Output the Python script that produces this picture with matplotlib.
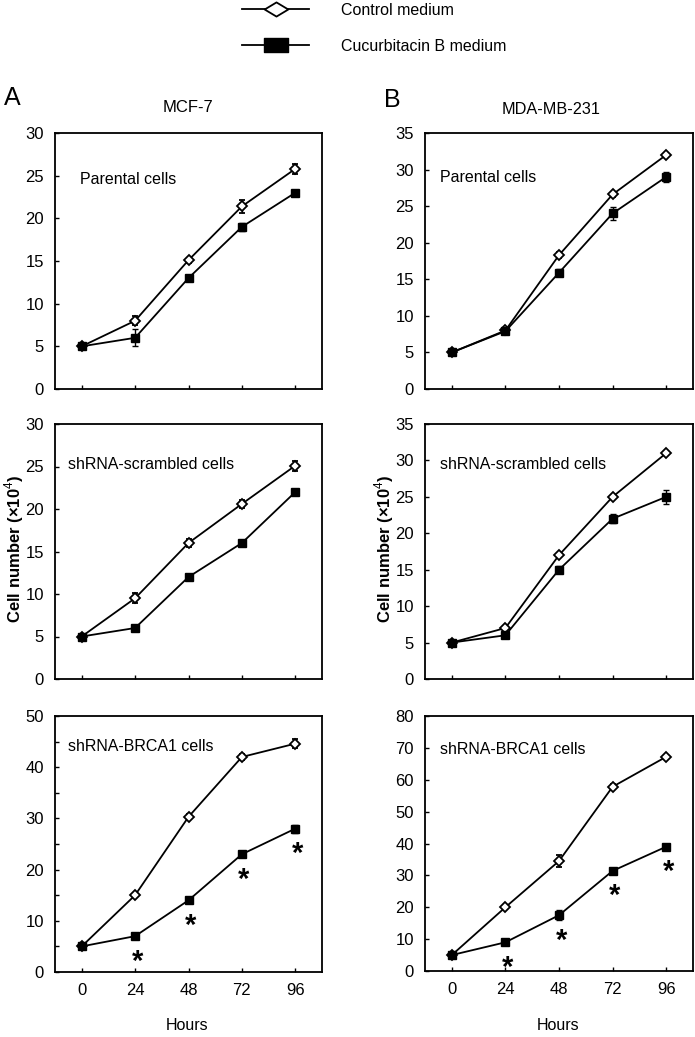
"""Growth curves: control vs cucurbitacin B medium, MCF-7 and MDA-MB-231."""

import matplotlib
matplotlib.use("Agg")
import matplotlib.pyplot as plt
from matplotlib.lines import Line2D
from matplotlib.path import Path

plt.rcParams["font.family"] = ["Liberation Sans", "DejaVu Sans"]
plt.rcParams["mathtext.fontset"] = "custom"
plt.rcParams["mathtext.rm"] = "Liberation Sans"
plt.rcParams["mathtext.bf"] = "Liberation Sans:bold"

hours = [0, 24, 48, 72, 96]
hour_labels = ["0", "24", "48", "72", "96"]

# MCF-7
mcf_parental_ctrl = [5.0, 8.0, 15.1, 21.4, 25.8]
mcf_parental_ctrl_err = [0.2, 0.5, 0.3, 0.8, 0.6]
mcf_parental_cub = [5.0, 6.0, 13.0, 19.0, 23.0]
mcf_parental_cub_err = [0.2, 1.0, 0.4, 0.5, 0.3]

mcf_scr_ctrl = [5.0, 9.5, 16.0, 20.6, 25.1]
mcf_scr_ctrl_err = [0.2, 0.6, 0.5, 0.5, 0.6]
mcf_scr_cub = [5.0, 6.0, 12.0, 16.0, 22.0]
mcf_scr_cub_err = [0.2, 0.2, 0.2, 0.2, 0.4]

mcf_brca_ctrl = [5.0, 15.0, 30.3, 42.0, 44.6]
mcf_brca_ctrl_err = [0.3, 0.4, 0.5, 0.6, 0.9]
mcf_brca_cub = [5.0, 7.0, 14.0, 23.0, 28.0]
mcf_brca_cub_err = [0.3, 0.3, 0.6, 0.6, 0.8]

# MDA-MB-231
mda_parental_ctrl = [5.0, 8.0, 18.3, 26.6, 32.0]
mda_parental_ctrl_err = [0.2, 0.3, 0.4, 0.4, 0.3]
mda_parental_cub = [5.0, 7.9, 15.9, 24.0, 29.0]
mda_parental_cub_err = [0.3, 0.3, 0.5, 0.9, 0.7]

mda_scr_ctrl = [5.0, 7.0, 17.0, 25.0, 31.0]
mda_scr_ctrl_err = [0.2, 0.3, 0.3, 0.3, 0.3]
mda_scr_cub = [5.0, 6.0, 15.0, 22.0, 25.0]
mda_scr_cub_err = [0.3, 0.4, 0.5, 0.6, 1.0]

mda_brca_ctrl = [5.0, 20.0, 34.5, 57.8, 67.2]
mda_brca_ctrl_err = [0.4, 0.5, 2.0, 0.8, 0.6]
mda_brca_cub = [5.0, 9.0, 17.5, 31.4, 39.0]
mda_brca_cub_err = [0.4, 0.5, 1.5, 0.8, 0.6]

# significant points (index into hours) for the BRCA1 knockdown panels
star_idx = [1, 2, 3, 4]

W, H = 695, 1037
fig = plt.figure(figsize=(W / 100, H / 100), dpi=100)


def px_axes(left, top, right, bottom):
    return fig.add_axes([left / W, 1 - bottom / H, (right - left) / W, (bottom - top) / H])


def panel(ax, ctrl, ctrl_err, cub, cub_err, ymax, ystep, label, label_pos,
          minor=None, stars=False, xlabels=False):
    ax.errorbar(hours, ctrl, yerr=ctrl_err, color="black", lw=1.3,
                marker="D", ms=5, mfc="white", mec="black", mew=1.3,
                capsize=2.5, elinewidth=1, capthick=1, zorder=3)
    ax.errorbar(hours, cub, yerr=cub_err, color="black", lw=1.3,
                marker="s", ms=6, mfc="black", mec="black",
                capsize=2.5, elinewidth=1, capthick=1, zorder=3)
    if stars:
        for i in star_idx:
            ax.annotate("*", (hours[i], cub[i]), xytext=(1.5, -24),
                        textcoords="offset points", ha="center", va="baseline",
                        fontsize=21, fontweight="bold")
    ax.set_xlim(-12, 108)
    ax.set_ylim(0, ymax)
    ax.set_yticks(range(0, ymax + 1, ystep))
    if minor:
        ax.set_yticks([v for v in range(minor, ymax, ystep)], minor=True)
    ax.set_xticks(hours)
    ax.set_xticklabels(hour_labels if xlabels else [])
    ax.tick_params(axis="both", which="both", direction="in", length=3,
                   width=1, labelsize=12)
    ax.tick_params(axis="x", pad=8)
    ax.tick_params(axis="y", pad=8)
    for sp in ax.spines.values():
        sp.set_linewidth(1.3)
    ax.text(label_pos[0], label_pos[1], label, transform=ax.transAxes,
            fontsize=11.5, ha="left", va="center")


# column A (MCF-7)
axA1 = px_axes(55, 133, 322, 389)
axA2 = px_axes(55, 424, 322, 679)
axA3 = px_axes(55, 716, 322, 972)
panel(axA1, mcf_parental_ctrl, mcf_parental_ctrl_err, mcf_parental_cub,
      mcf_parental_cub_err, 30, 5, "Parental cells", (0.095, 0.82))
panel(axA2, mcf_scr_ctrl, mcf_scr_ctrl_err, mcf_scr_cub, mcf_scr_cub_err,
      30, 5, "shRNA-scrambled cells", (0.05, 0.84))
panel(axA3, mcf_brca_ctrl, mcf_brca_ctrl_err, mcf_brca_cub, mcf_brca_cub_err,
      50, 10, "shRNA-BRCA1 cells", (0.05, 0.88), minor=5, stars=True,
      xlabels=True)

# column B (MDA-MB-231)
axB1 = px_axes(425, 133, 693, 389)
axB2 = px_axes(425, 424, 693, 679)
axB3 = px_axes(425, 716, 693, 971)
panel(axB1, mda_parental_ctrl, mda_parental_ctrl_err, mda_parental_cub,
      mda_parental_cub_err, 35, 5, "Parental cells", (0.056, 0.825))
panel(axB2, mda_scr_ctrl, mda_scr_ctrl_err, mda_scr_cub, mda_scr_cub_err,
      35, 5, "shRNA-scrambled cells", (0.056, 0.84))
panel(axB3, mda_brca_ctrl, mda_brca_ctrl_err, mda_brca_cub, mda_brca_cub_err,
      80, 10, "shRNA-BRCA1 cells", (0.056, 0.87), stars=True, xlabels=True)

# panel letters and cell-line titles
fig.text(12 / W, 1 - 98 / H, "A", fontsize=18, ha="center", va="center")
fig.text(392 / W, 1 - 100 / H, "B", fontsize=18, ha="center", va="center")
fig.text(188 / W, 1 - 108 / H, "MCF-7", fontsize=12, ha="center", va="center")
fig.text(551 / W, 1 - 110 / H, "MDA-MB-231", fontsize=11.7, ha="center", va="center")

# axis labels
for xpix in (14, 384):
    fig.text(xpix / W, 1 - 549 / H, "Cell number (\u00d710$^{4}$)", rotation=90,
             fontsize=12, fontweight="bold", ha="center", va="center")
for xpix in (187, 558):
    fig.text(xpix / W, 1 - 1025 / H, "Hours", fontsize=11.5, ha="center", va="center")

# legend with stretched markers
flat_diamond = Path([(-1, 0), (0, 0.6), (1, 0), (0, -0.6), (-1, 0)],
                    [Path.MOVETO, Path.LINETO, Path.LINETO, Path.LINETO, Path.CLOSEPOLY])
flat_square = Path([(-1, -0.6), (1, -0.6), (1, 0.6), (-1, 0.6), (-1, -0.6)],
                   [Path.MOVETO, Path.LINETO, Path.LINETO, Path.LINETO, Path.CLOSEPOLY])
handles = [
    Line2D([], [], color="black", lw=1.3, marker=flat_diamond, ms=17,
           mfc="white", mec="black", mew=1.3),
    Line2D([], [], color="black", lw=1.3, marker=flat_square, ms=17,
           mfc="black", mec="black"),
]
fig.legend(handles, ["Control medium", "Cucurbitacin B medium"],
           loc="upper left", bbox_to_anchor=(242 / W, 1 - 3 / H),
           frameon=False, fontsize=11.5, handlelength=4.2, handletextpad=2.0,
           labelspacing=1.3, borderpad=0, borderaxespad=0)

fig.savefig("out.png", dpi=100)
